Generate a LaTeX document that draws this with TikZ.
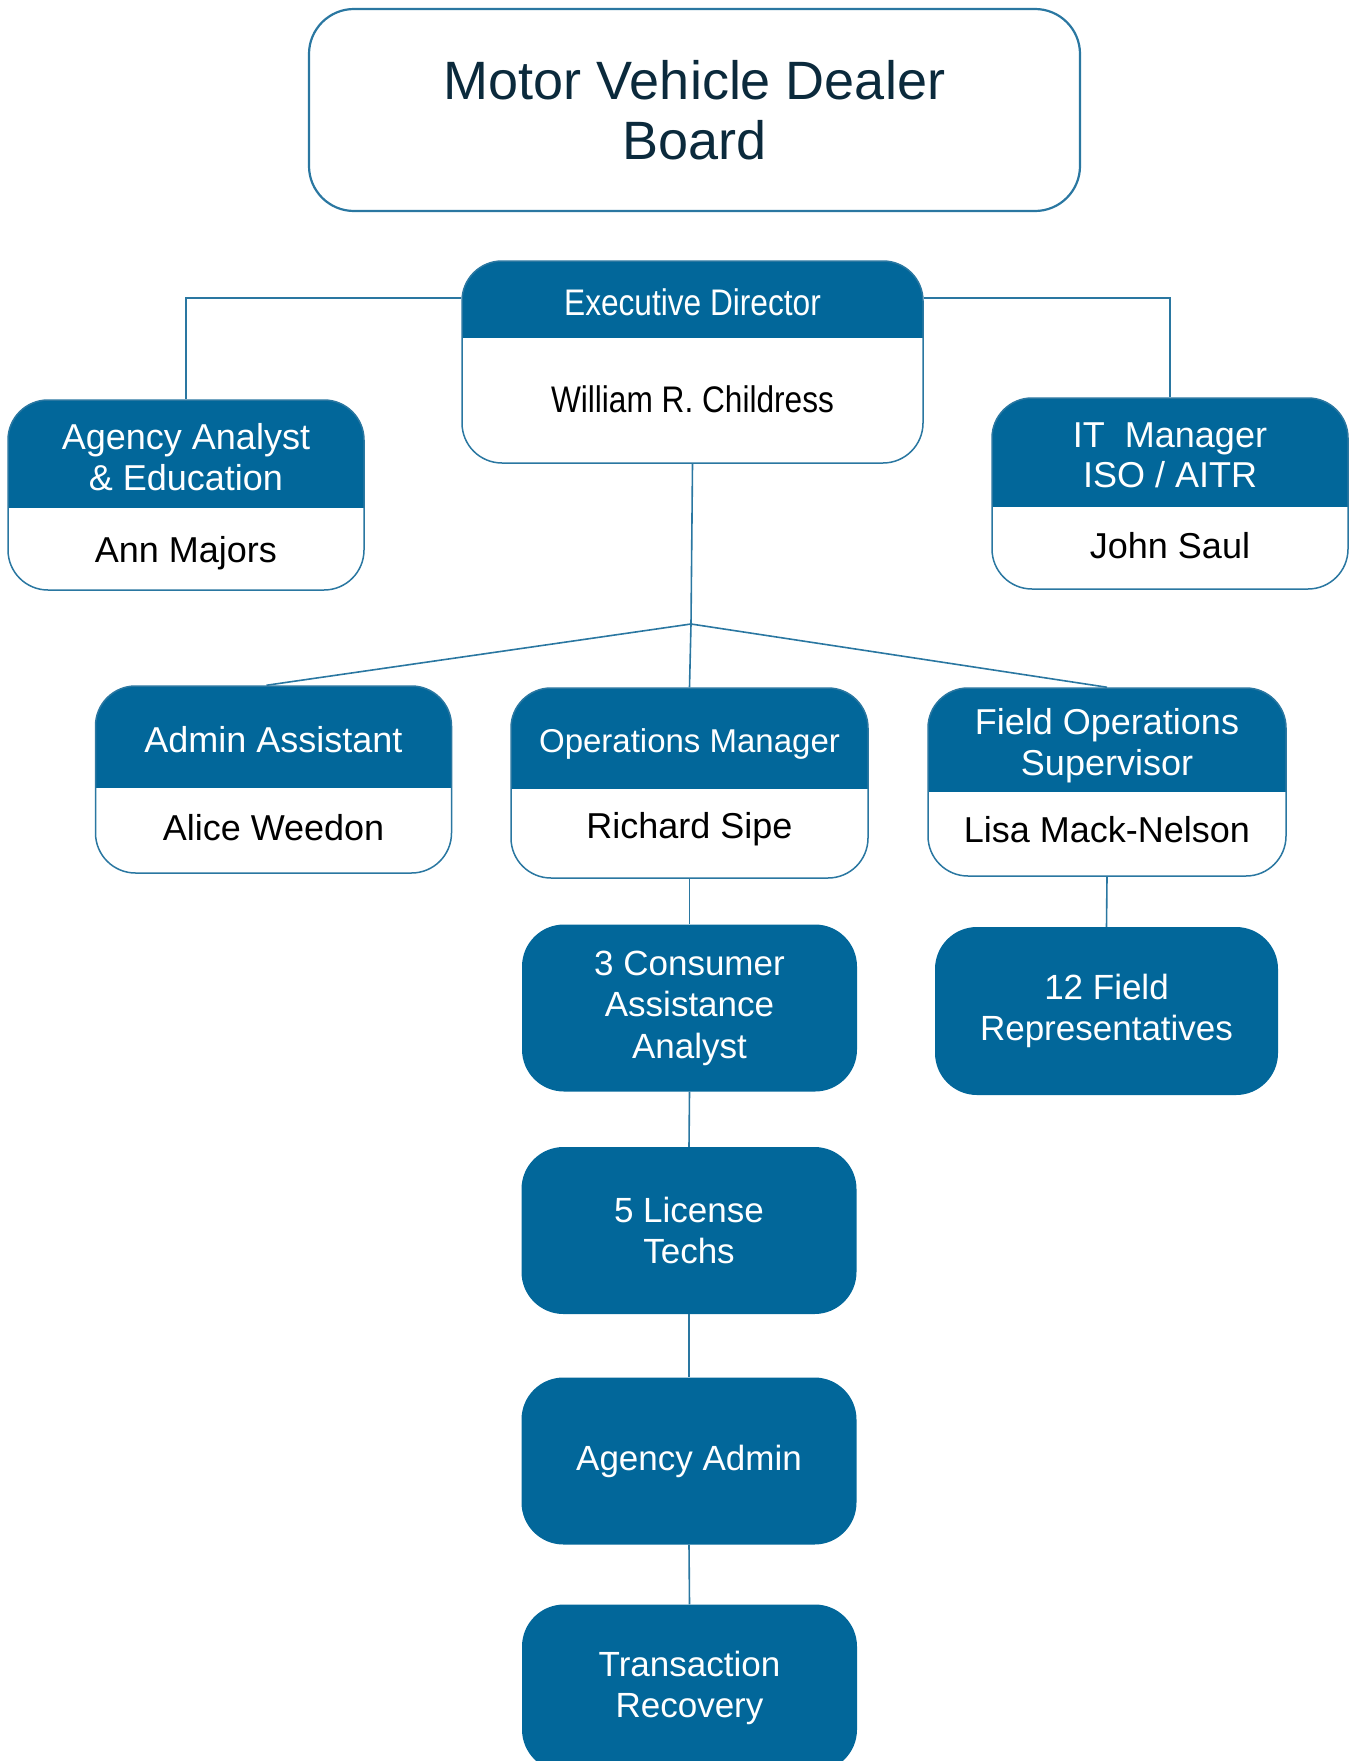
\documentclass[tikz,border=0pt]{standalone}
\usepackage{fontspec}
\setmainfont{Liberation Sans}
\newfontfamily\narrowsans[FakeStretch=0.855]{Liberation Sans}
\usepackage{tikz}
\usetikzlibrary{positioning}

\definecolor{headblue}{HTML}{02679A}
\definecolor{edgeblue}{HTML}{2A77A1}
\definecolor{boardtext}{HTML}{0B2A3C}

\tikzset{
  card/.style={draw=edgeblue, line width=1.5pt, fill=white, rounded corners=40pt, inner sep=0pt},
  headband/.style={path picture={\fill[headblue, sharp corners] (path picture bounding box.north west) rectangle ([yshift=-#1]path picture bounding box.north east);}},
  unitbox/.style={fill=headblue, rounded corners=42pt, inner sep=0pt, minimum width=335pt, minimum height=167pt, text=white, align=center, font=\fontsize{35}{41.5}\selectfont},
  headtext/.style={text=white, font=\fontsize{36}{40.5}\selectfont, align=center, inner sep=0pt},
  nametext/.style={text=black, font=\fontsize{36}{40}\selectfont, inner sep=0pt},
  link/.style={draw=edgeblue, line width=1.6pt},
}

\begin{document}
\begin{tikzpicture}[x=1pt, y=-1pt]
    \useasboundingbox (0,0) rectangle (1349,1761);

    % Define the board
    \node[draw=edgeblue, line width=2.2pt, rounded corners=45pt, minimum width=771pt, minimum height=202pt, text=boardtext, align=center, font=\fontsize{54}{60}\selectfont] (board) at (694.5,110) {Motor Vehicle Dealer\\Board};

    % Executive director
    \node[card, headband=77pt, minimum width=461pt, minimum height=202pt] (exec) at (692.5,362) {};
    \node[headtext, font=\narrowsans\fontsize{37}{40}\selectfont, anchor=base] (exechead) at (692.5,315) {Executive Director};
    \node[nametext, font=\narrowsans\fontsize{37}{40}\selectfont, anchor=base] (execname) at (692.5,412) {William R. Childress};

    % Side cards
    \node[card, headband=108pt, minimum width=356pt, minimum height=190pt] (agency) at (186,495) {};
    \node[headtext] (agencyhead) at (186,457.3) {Agency Analyst\\\& Education};
    \node[nametext, anchor=base] (agencyname) at (186,562) {Ann Majors};

    \node[card, headband=109pt, minimum width=356pt, minimum height=191pt] (itmgr) at (1170,493.5) {};
    \node[headtext] (ithead) at (1170,455.3) {IT\ \ Manager\\ISO / AITR};
    \node[nametext, anchor=base] (itname) at (1170,558) {John Saul};

    % Second row
    \node[card, headband=102pt, minimum width=356pt, minimum height=187pt] (admin) at (273.5,779.5) {};
    \node[headtext, anchor=base] (adminhead) at (273.5,752) {Admin Assistant};
    \node[nametext, anchor=base] (adminname) at (273.5,840) {Alice Weedon};

    \node[card, headband=101pt, minimum width=357pt, minimum height=190pt] (ops) at (689.5,783) {};
    \node[headtext, font=\fontsize{33}{40}\selectfont, anchor=base] (opshead) at (689.5,752) {Operations Manager};
    \node[nametext, anchor=base] (opsname) at (689.5,838) {Richard Sipe};

    \node[card, headband=104pt, minimum width=358pt, minimum height=188pt] (field) at (1107,782) {};
    \node[headtext] (fieldhead) at (1107,745.8) {Field Operations\\Supervisor};
    \node[nametext, anchor=base] (fieldname) at (1107,842) {Lisa Mack-Nelson};

    % Staff units
    \node[unitbox] (consumer) at (689.5,1008) {3 Consumer\\Assistance\\Analyst};
    \node[unitbox, minimum width=343pt, minimum height=168pt] (reps) at (1106.5,1011) {12 Field\\Representatives};
    \node[unitbox] (license) at (689,1230.5) {5 License\\Techs};
    \node[unitbox] (agadmin) at (689,1461) {Agency Admin};
    \node[unitbox] (recovery) at (689.5,1688) {Transaction\\Recovery};

    % Connectors
    \coordinate (split) at (691,624);
    \draw[link] ([yshift=-38pt]exec.north west) -| (agency.north);
    \draw[link] ([yshift=-38pt]exec.north east) -| (itmgr.north);
    \draw[link] (exec.south) -- (split);
    \draw[link] (split) -- ([xshift=-7pt]admin.north);
    \draw[link] (split) -- (ops.north);
    \draw[link] (split) -- (field.north);
    \draw[link] (ops.south) -- (consumer.north);
    \draw[link] (field.south) -- (reps.north);
    \draw[link] (consumer.south) -- (license.north);
    \draw[link] (license.south) -- (agadmin.north);
    \draw[link] (agadmin.south) -- (recovery.north);
\end{tikzpicture}
\end{document}
